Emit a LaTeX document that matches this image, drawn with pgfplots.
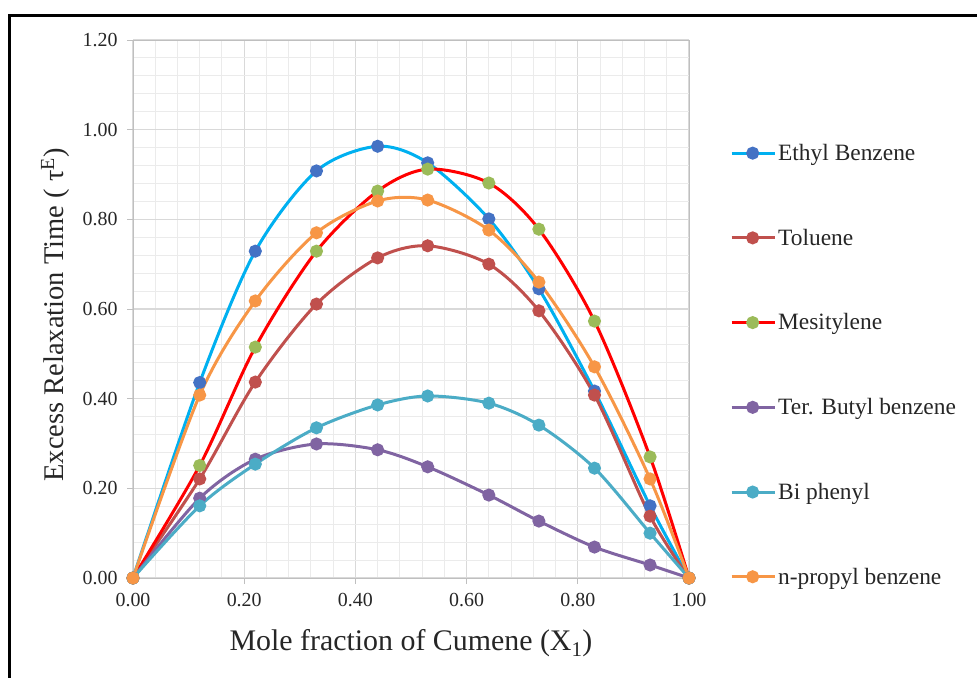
\documentclass[border=0pt]{standalone}
\usepackage{fontspec}
\setmainfont{Liberation Serif}
\usepackage{pgfplots}
\pgfplotsset{compat=1.18}
\definecolor{ethln}{HTML}{00B0F0}
\definecolor{ethmk}{HTML}{4472C4}
\definecolor{tol}{HTML}{C0504D}
\definecolor{mesln}{HTML}{FF0000}
\definecolor{mesmk}{HTML}{9BBB59}
\definecolor{tbut}{HTML}{8064A2}
\definecolor{biph}{HTML}{4BACC6}
\definecolor{nprop}{HTML}{F79646}
\definecolor{majgrid}{HTML}{D9D9D9}
\definecolor{mingrid}{HTML}{EBEBEB}
\definecolor{axln}{HTML}{BFBFBF}
\tikzset{
  ser/.style={line width=3bp, smooth, tension=0.5, mark=*, mark size=5bp},
}
\begin{document}
\begin{tikzpicture}
\useasboundingbox (0bp,0bp) rectangle (977bp,-678bp);
\draw[line width=3bp] (9.5bp,-678bp) -- (9.5bp,-15.5bp) -- (977bp,-15.5bp);
\begin{axis}[
  at={(133bp,-578bp)}, anchor=south west,
  scale only axis, width=556bp, height=538bp,
  xmin=0, xmax=1, ymin=0, ymax=1.2,
  xtick={0,0.2,0.4,0.6,0.8,1.0},
  ytick={0,0.2,0.4,0.6,0.8,1.0,1.2},
  minor x tick num=4, minor y tick num=4,
  grid=both,
  major grid style={draw=majgrid, line width=1.2bp},
  minor grid style={draw=mingrid, line width=1bp},
  axis line style={draw=axln, line width=1bp},
  major tick style={draw=axln, line width=1bp},
  minor tick length=0pt, major tick length=6bp,
  tick align=outside,
  xtick pos=bottom, ytick pos=left,
  clip=false,
  /pgf/number format/assume math mode=true,
  /pgf/number format/fixed, /pgf/number format/fixed zerofill,
  /pgf/number format/precision=2,
  tick label style={font=\fontsize{20}{23}\selectfont, text=black!85},
  xticklabel style={yshift=-6bp},
  yticklabel style={xshift=-6bp},
  xlabel={Mole fraction of Cumene (X\textsubscript{1})},
  ylabel={Excess Relaxation Time ( τ\textsuperscript{E})},
  label style={text=black!85},
  xlabel style={font=\fontsize{30}{34}\selectfont, at={(axis description cs:0.5,-0.122)}, anchor=center},
  ylabel style={font=\fontsize{28.6}{32}\selectfont, at={(axis description cs:-0.14,0.489)}, anchor=center},
  legend style={draw=none, fill=none, at={(axis description cs:1.0737,0.396)}, anchor=west,
    font=\fontsize{23.5}{26}\selectfont, text=black!85, row sep=63bp, inner sep=0pt,
    cells={anchor=west}},
  legend image code/.code={\draw[#1, mark repeat=2, mark phase=2] plot coordinates {(0bp,0bp) (21bp,0bp) (43bp,0bp)};},
]
\addplot[ser, draw=ethln, mark options={draw=ethmk, fill=ethmk}] coordinates {
(0,0) (0.12,0.436) (0.22,0.729) (0.33,0.908) (0.44,0.963) (0.53,0.926) (0.64,0.801) (0.73,0.645) (0.83,0.417) (0.93,0.161) (1,0)};
\addlegendentry{Ethyl Benzene}
\addplot[ser, draw=tol, mark options={draw=tol, fill=tol}] coordinates {
(0,0) (0.12,0.221) (0.22,0.437) (0.33,0.611) (0.44,0.714) (0.53,0.741) (0.64,0.700) (0.73,0.596) (0.83,0.408) (0.93,0.138) (1,0)};
\addlegendentry{Toluene}
\addplot[ser, draw=mesln, mark options={draw=mesmk, fill=mesmk}] coordinates {
(0,0) (0.12,0.251) (0.22,0.515) (0.33,0.729) (0.44,0.863) (0.53,0.912) (0.64,0.881) (0.73,0.778) (0.83,0.573) (0.93,0.270) (1,0)};
\addlegendentry{Mesitylene}
\addplot[ser, draw=tbut, mark options={draw=tbut, fill=tbut}] coordinates {
(0,0) (0.12,0.178) (0.22,0.265) (0.33,0.299) (0.44,0.286) (0.53,0.248) (0.64,0.185) (0.73,0.127) (0.83,0.069) (0.93,0.029) (1,0)};
\addlegendentry{Ter. Butyl benzene}
\addplot[ser, draw=biph, mark options={draw=biph, fill=biph}] coordinates {
(0,0) (0.12,0.161) (0.22,0.254) (0.33,0.335) (0.44,0.386) (0.53,0.406) (0.64,0.390) (0.73,0.341) (0.83,0.245) (0.93,0.100) (1,0)};
\addlegendentry{Bi phenyl}
\addplot[ser, draw=nprop, mark options={draw=nprop, fill=nprop}] coordinates {
(0,0) (0.12,0.408) (0.22,0.618) (0.33,0.770) (0.44,0.841) (0.53,0.843) (0.64,0.776) (0.73,0.660) (0.83,0.471) (0.93,0.221) (1,0)};
\addlegendentry{n-propyl benzene}
\end{axis}
\end{tikzpicture}
\end{document}
